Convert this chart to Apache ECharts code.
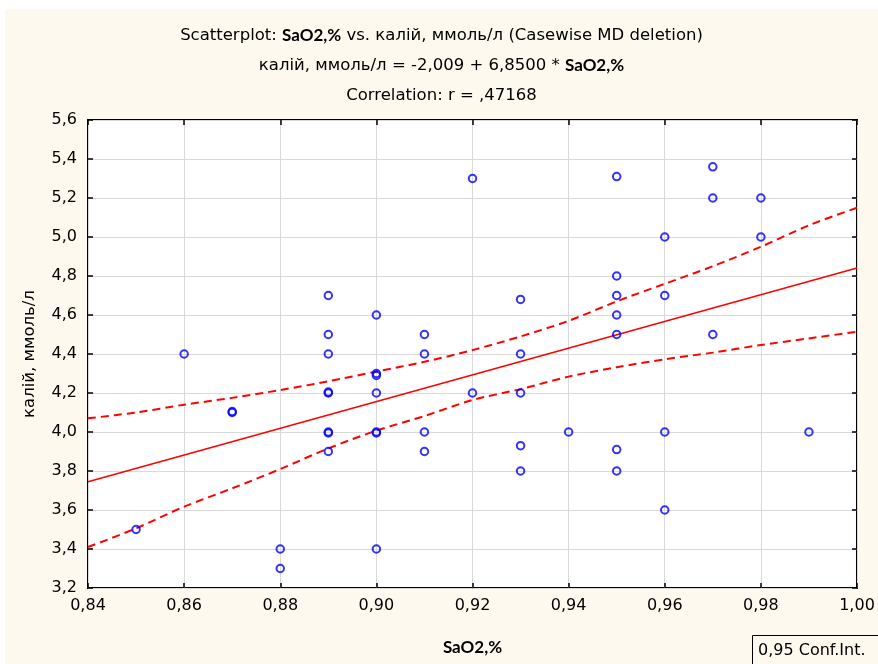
<!DOCTYPE html>
<html>
<head>
<meta charset="utf-8">
<script src="https://cdn.jsdelivr.net/npm/echarts@6/dist/echarts.min.js"></script>
<style>
  html, body { margin: 0; padding: 0; background: #ffffff; width: 878px; height: 664px; overflow: hidden; }
  #chart { position: absolute; left: 5px; top: 9px; width: 873px; height: 655px; background: #FEF9EE; }
</style>
</head>
<body>
<div id="chart"></div>
<script>
// ---- data ----
const saO2 = [0.92,0.89,0.90,0.89,0.91,0.86,0.89,0.91,
  0.95,0.97,0.97,0.98,0.96,0.98,0.95,0.95,0.96,0.93,0.95,0.95,0.97,0.93,
  0.90,0.89,0.90,0.92,0.87,0.89,0.90,0.91,0.89,0.91,0.85,0.88,0.90,0.88,
  0.93,0.94,0.96,0.99,0.93,0.95,0.93,0.95,0.96,
  0.90,0.87,0.89,0.90,0.89];
const kalii = [5.30,4.70,4.60,4.50,4.50,4.40,4.40,4.40,
  5.31,5.36,5.20,5.20,5.00,5.00,4.80,4.70,4.70,4.68,4.60,4.50,4.50,4.40,
  4.30,4.20,4.20,4.20,4.10,4.00,4.00,4.00,3.90,3.90,3.50,3.40,3.40,3.30,
  4.20,4.00,4.00,4.00,3.93,3.91,3.80,3.80,3.60,
  4.29,4.105,4.205,3.995,3.995];

const fitX = [0.84, 1.00];
const fitY = [3.745, 4.841];

const bandX = [0.84,0.85,0.86,0.87,0.88,0.89,0.90,0.91,0.92,0.93,0.94,0.95,0.96,0.97,0.98,0.99,1.00];
const upperBand = [4.07,4.10,4.14,4.175,4.215,4.26,4.31,4.36,4.42,4.49,4.57,4.67,4.76,4.85,4.95,5.06,5.15];
const lowerBand = [3.41,3.506,3.617,3.711,3.81,3.916,4.007,4.082,4.164,4.22,4.284,4.332,4.373,4.407,4.446,4.48,4.514];

const xTicks = { min: 0.84, max: 1.00, interval: 0.02 };
const yTicks = { min: 3.2, max: 5.6, interval: 0.2 };

// ---- chart ----
const FONT = '"DejaVu Sans", sans-serif';
const BOLD = 'Lato, "Open Sans", sans-serif';
const fmt = (d) => (v) => v.toFixed(d).replace('.', ',');

const points = saO2.map((x, i) => [x, kalii[i]]);
const fit = fitX.map((x, i) => [x, fitY[i]]);
const upper = bandX.map((x, i) => [x, upperBand[i]]);
const lower = bandX.map((x, i) => [x, lowerBand[i]]);

const chart = echarts.init(document.getElementById('chart'), null, { renderer: 'canvas' });

const axisCommon = {
  type: 'value',
  axisLine: { show: false },
  axisTick: { show: true, inside: true, length: 5, lineStyle: { color: '#000', width: 1.5 } }
};

chart.setOption({
  animation: false,
  backgroundColor: '#FEF9EE',
  title: {
    left: 'center',
    top: 7,
    text: '{n|Scatterplot: }{b|SaO2,%}{n| vs. калій, ммоль/л (Casewise MD deletion)}\n' +
          '{n|калій, ммоль/л = -2,009 + 6,8500 * }{b|SaO2,%}\n' +
          '{n|Correlation: r = ,47168}',
    textStyle: {
      fontWeight: 'normal',
      rich: {
        n: { fontFamily: FONT, fontWeight: 'normal', fontSize: 16.5, color: '#000', lineHeight: 30 },
        b: { fontFamily: BOLD, fontWeight: 'bold', fontSize: 17, color: '#000', lineHeight: 30 }
      }
    }
  },
  grid: {
    left: 83, right: 21, top: 111, bottom: 76,
    show: true, backgroundColor: '#ffffff', borderColor: '#000', borderWidth: 2
  },
  xAxis: [
    Object.assign({}, axisCommon, {
      min: xTicks.min, max: xTicks.max, interval: xTicks.interval,
      position: 'bottom',
      axisLabel: { formatter: fmt(2), fontFamily: FONT, fontSize: 16, color: '#000', margin: 10 },
      splitLine: { show: true, lineStyle: { color: '#d9d9d9', width: 1 } },
      name: 'SaO2,%', nameLocation: 'middle', nameGap: 51,
      nameTextStyle: { fontFamily: BOLD, fontWeight: 'bold', fontSize: 17, color: '#000' }
    }),
    Object.assign({}, axisCommon, {
      min: xTicks.min, max: xTicks.max, interval: xTicks.interval,
      position: 'top', axisLabel: { show: false }, splitLine: { show: false }
    })
  ],
  yAxis: [
    Object.assign({}, axisCommon, {
      min: yTicks.min, max: yTicks.max, interval: yTicks.interval,
      position: 'left',
      axisLabel: { formatter: fmt(1), fontFamily: FONT, fontSize: 16, color: '#000', margin: 11 },
      splitLine: { show: true, lineStyle: { color: '#d9d9d9', width: 1 } },
      name: 'калій, ммоль/л', nameLocation: 'middle', nameGap: 50,
      nameTextStyle: { fontFamily: FONT, fontSize: 16.5, color: '#000' }
    }),
    Object.assign({}, axisCommon, {
      min: yTicks.min, max: yTicks.max, interval: yTicks.interval,
      position: 'right', axisLabel: { show: false }, splitLine: { show: false }
    })
  ],
  series: [
    {
      type: 'line', data: fit, showSymbol: false, symbol: 'none',
      lineStyle: { color: '#ff0000', width: 1.5 }, z: 3, silent: true
    },
    {
      type: 'line', data: upper, showSymbol: false, symbol: 'none', smooth: 0.3,
      lineStyle: { color: '#ff0000', width: 2, type: [8, 5] }, z: 3, silent: true
    },
    {
      type: 'line', data: lower, showSymbol: false, symbol: 'none', smooth: 0.3,
      lineStyle: { color: '#ff0000', width: 2, type: [8, 5] }, z: 3, silent: true
    },
    {
      type: 'scatter', data: points, symbol: 'circle', symbolSize: 7.5,
      itemStyle: { color: 'rgba(0,0,0,0)', borderColor: '#0000ff', borderWidth: 2 }, z: 4
    }
  ],
  graphic: [
    {
      type: 'rect', left: 747, top: 626,
      shape: { width: 140, height: 40 },
      style: { fill: 'rgba(0,0,0,0)', stroke: '#000', lineWidth: 1 }
    },
    {
      type: 'text', left: 753, top: 634,
      style: { text: '0,95 Conf.Int.', font: '16px ' + FONT, fill: '#000' }
    }
  ]
});
</script>
</body>
</html>
